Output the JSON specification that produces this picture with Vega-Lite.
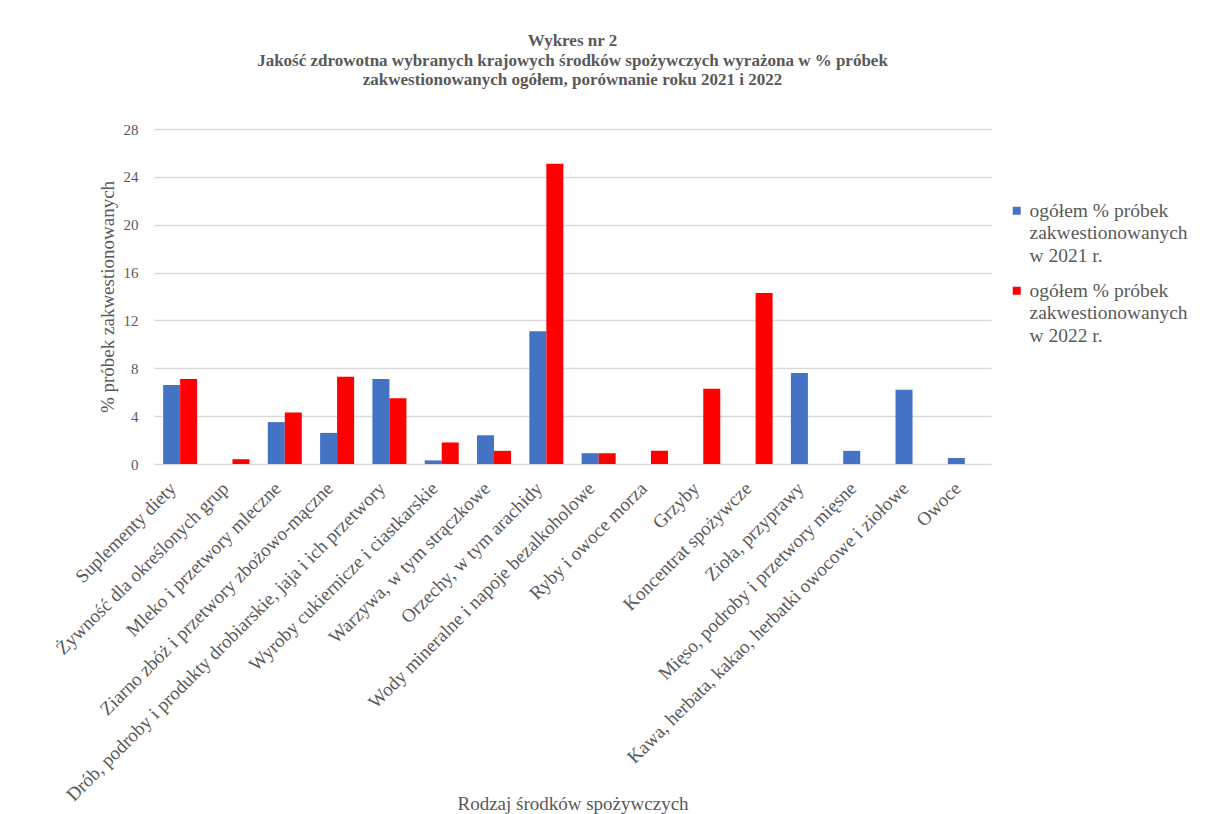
{
  "$schema": "https://vega.github.io/schema/vega-lite/v6.json",
  "autosize": {"type": "none"},
  "padding": {"left": 154, "top": 129, "right": 216, "bottom": 350},
  "width": 837,
  "height": 335,
  "background": "white",
  "title": {
    "text": ["Wykres nr 2", "Jakość zdrowotna wybranych krajowych środków spożywczych wyrażona w % próbek", "zakwestionowanych ogółem, porównanie roku 2021 i 2022"],
    "font": "Liberation Serif",
    "fontSize": 17,
    "fontWeight": "bold",
    "color": "#595959",
    "lineHeight": 19.5,
    "anchor": "middle",
    "offset": 33
  },
  "data": {
    "values": [
      {"kategoria": "Suplementy diety", "seria": "ogółem % próbek zakwestionowanych w 2021 r.", "wartosc": 6.6},
      {"kategoria": "Suplementy diety", "seria": "ogółem % próbek zakwestionowanych w 2022 r.", "wartosc": 7.1},
      {"kategoria": "Żywność dla określonych grup", "seria": "ogółem % próbek zakwestionowanych w 2021 r.", "wartosc": 0},
      {"kategoria": "Żywność dla określonych grup", "seria": "ogółem % próbek zakwestionowanych w 2022 r.", "wartosc": 0.4},
      {"kategoria": "Mleko i przetwory mleczne", "seria": "ogółem % próbek zakwestionowanych w 2021 r.", "wartosc": 3.5},
      {"kategoria": "Mleko i przetwory mleczne", "seria": "ogółem % próbek zakwestionowanych w 2022 r.", "wartosc": 4.3},
      {"kategoria": "Ziarno zbóż i przetwory zbożowo-mączne", "seria": "ogółem % próbek zakwestionowanych w 2021 r.", "wartosc": 2.6},
      {"kategoria": "Ziarno zbóż i przetwory zbożowo-mączne", "seria": "ogółem % próbek zakwestionowanych w 2022 r.", "wartosc": 7.3},
      {"kategoria": "Drób, podroby i produkty drobiarskie, jaja i ich przetwory", "seria": "ogółem % próbek zakwestionowanych w 2021 r.", "wartosc": 7.1},
      {"kategoria": "Drób, podroby i produkty drobiarskie, jaja i ich przetwory", "seria": "ogółem % próbek zakwestionowanych w 2022 r.", "wartosc": 5.5},
      {"kategoria": "Wyroby cukiernicze i ciastkarskie", "seria": "ogółem % próbek zakwestionowanych w 2021 r.", "wartosc": 0.3},
      {"kategoria": "Wyroby cukiernicze i ciastkarskie", "seria": "ogółem % próbek zakwestionowanych w 2022 r.", "wartosc": 1.8},
      {"kategoria": "Warzywa, w tym strączkowe", "seria": "ogółem % próbek zakwestionowanych w 2021 r.", "wartosc": 2.4},
      {"kategoria": "Warzywa, w tym strączkowe", "seria": "ogółem % próbek zakwestionowanych w 2022 r.", "wartosc": 1.1},
      {"kategoria": "Orzechy, w tym arachidy", "seria": "ogółem % próbek zakwestionowanych w 2021 r.", "wartosc": 11.1},
      {"kategoria": "Orzechy, w tym arachidy", "seria": "ogółem % próbek zakwestionowanych w 2022 r.", "wartosc": 25.1},
      {"kategoria": "Wody mineralne i napoje bezalkoholowe", "seria": "ogółem % próbek zakwestionowanych w 2021 r.", "wartosc": 0.9},
      {"kategoria": "Wody mineralne i napoje bezalkoholowe", "seria": "ogółem % próbek zakwestionowanych w 2022 r.", "wartosc": 0.9},
      {"kategoria": "Ryby i owoce morza", "seria": "ogółem % próbek zakwestionowanych w 2021 r.", "wartosc": 0},
      {"kategoria": "Ryby i owoce morza", "seria": "ogółem % próbek zakwestionowanych w 2022 r.", "wartosc": 1.1},
      {"kategoria": "Grzyby", "seria": "ogółem % próbek zakwestionowanych w 2021 r.", "wartosc": 0},
      {"kategoria": "Grzyby", "seria": "ogółem % próbek zakwestionowanych w 2022 r.", "wartosc": 6.3},
      {"kategoria": "Koncentrat spożywcze", "seria": "ogółem % próbek zakwestionowanych w 2021 r.", "wartosc": 0},
      {"kategoria": "Koncentrat spożywcze", "seria": "ogółem % próbek zakwestionowanych w 2022 r.", "wartosc": 14.3},
      {"kategoria": "Zioła, przyprawy", "seria": "ogółem % próbek zakwestionowanych w 2021 r.", "wartosc": 7.6},
      {"kategoria": "Zioła, przyprawy", "seria": "ogółem % próbek zakwestionowanych w 2022 r.", "wartosc": 0},
      {"kategoria": "Mięso, podroby i przetwory mięsne", "seria": "ogółem % próbek zakwestionowanych w 2021 r.", "wartosc": 1.1},
      {"kategoria": "Mięso, podroby i przetwory mięsne", "seria": "ogółem % próbek zakwestionowanych w 2022 r.", "wartosc": 0},
      {"kategoria": "Kawa, herbata, kakao, herbatki owocowe i ziołowe", "seria": "ogółem % próbek zakwestionowanych w 2021 r.", "wartosc": 6.2},
      {"kategoria": "Kawa, herbata, kakao, herbatki owocowe i ziołowe", "seria": "ogółem % próbek zakwestionowanych w 2022 r.", "wartosc": 0},
      {"kategoria": "Owoce", "seria": "ogółem % próbek zakwestionowanych w 2021 r.", "wartosc": 0.5},
      {"kategoria": "Owoce", "seria": "ogółem % próbek zakwestionowanych w 2022 r.", "wartosc": 0}
    ]
  },
  "mark": {"type": "bar"},
  "encoding": {
    "x": {
      "field": "kategoria",
      "type": "nominal",
      "sort": null,
      "scale": {"paddingInner": 0.35, "paddingOuter": 0.175},
      "axis": {
        "title": "Rodzaj środków spożywczych",
        "titleFont": "Liberation Serif",
        "titleFontSize": 19,
        "titleFontWeight": "normal",
        "titleColor": "#595959",
        "titleY": 339,
        "titleBaseline": "middle",
        "labelAngle": -45,
        "labelFont": "Liberation Serif",
        "labelFontSize": 19,
        "labelColor": "#595959",
        "labelLimit": 0,
        "labelBaseline": "bottom",
        "labelPadding": 28,
        "ticks": false,
        "domain": false,
        "grid": false
      }
    },
    "xOffset": {"field": "seria", "type": "nominal"},
    "y": {
      "field": "wartosc",
      "type": "quantitative",
      "scale": {"domain": [0, 28], "nice": false},
      "axis": {
        "title": "% próbek zakwestionowanych",
        "titleFont": "Liberation Serif",
        "titleFontSize": 19,
        "titleFontWeight": "normal",
        "titleColor": "#595959",
        "titlePadding": 6,
        "values": [0, 4, 8, 12, 16, 20, 24, 28],
        "labelFont": "Liberation Serif",
        "labelFontSize": 15,
        "labelColor": "#595959",
        "labelPadding": 16,
        "ticks": false,
        "domain": false,
        "grid": true,
        "gridColor": "#d9d9d9",
        "gridWidth": 1.5
      }
    },
    "color": {
      "field": "seria",
      "type": "nominal",
      "scale": {
        "domain": ["ogółem % próbek zakwestionowanych w 2021 r.", "ogółem % próbek zakwestionowanych w 2022 r."],
        "range": ["#4472C4", "#FF0000"]
      },
      "legend": {
        "title": null,
        "orient": "none",
        "legendX": 853,
        "legendY": 72,
        "symbolType": "square",
        "symbolSize": 64,
        "symbolStrokeWidth": 0,
        "labelFont": "Liberation Serif",
        "labelFontSize": 19.5,
        "labelColor": "#595959",
        "labelLimit": 0,
        "labelOffset": 3,
        "rowPadding": 14,
        "labelExpr": "['ogółem % próbek', 'zakwestionowanych', indexof(datum.label, '2021') >= 0 ? 'w 2021 r.' : 'w 2022 r.']"
      }
    }
  },
  "config": {
    "view": {"stroke": null},
    "style": {"guide-label": {"lineHeight": 22.5}}
  }
}
